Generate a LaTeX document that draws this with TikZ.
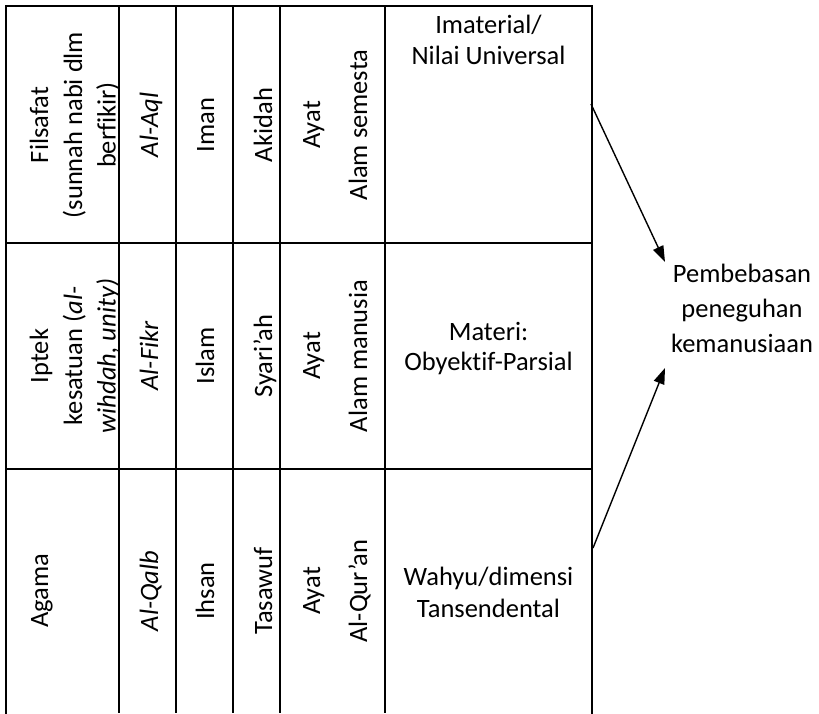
\documentclass[tikz,border=0pt]{standalone}
\usepackage{fontspec}
\setmainfont{Carlito}[Ligatures=NoCommon]
\usetikzlibrary{arrows.meta}
\begin{document}
\begin{tikzpicture}[x=1pt,y=-1pt,
  every node/.style={font=\fontsize{26.5}{34}\selectfont, inner sep=0pt, text=black},
  rot/.style={rotate=90, anchor=base},
  hz/.style={anchor=base},
  grid/.style={line width=1.8pt},
  arr/.style={line width=1.4pt, -{Triangle[length=16pt,width=11pt]}}]
\useasboundingbox (0,0) rectangle (819,713);
% table frame
\draw[grid, line cap=rect] (6,713) -- (6,6) -- (592,6) -- (592,713);
\foreach \x in {119,176,233,280,385} \draw[grid] (\x,6) -- (\x,713);
\draw[grid] (6,243) -- (592,243);
\draw[grid] (6,469) -- (592,469);
% row 1
\node[rot] (r1c1a) at (48,125) {Filsafat};
\node[rot] (r1c1b) at (82,125) {(sunnah nabi dlm};
\node[rot] (r1c1c) at (115.5,125) {berfikir)};
\node[rot] (r1c2) at (158,125) {\itshape Al-Aql};
\node[rot] (r1c3) at (214,125) {Iman};
\node[rot] (r1c4) at (272,125) {Akidah};
\node[rot] (r1c5a) at (320,125) {Ayat};
\node[rot] (r1c5b) at (367,125) {Alam semesta};
\node[hz] (r1c6a) at (488.5,33) {Imaterial/};
\node[hz] (r1c6b) at (488.5,64) {Nilai Universal};
% row 2
\node[rot] (r2c1a) at (48,356) {Iptek};
\node[rot] (r2c1b) at (82,356) {kesatuan (\textit{al-}};
\node[rot] (r2c1c) at (115.5,356) {\textit{wihdah, unity)}};
\node[rot] (r2c2) at (158,356) {\itshape Al-Fikr};
\node[rot] (r2c3) at (214,356) {Islam};
\node[rot] (r2c4) at (272,356) {Syari’ah};
\node[rot] (r2c5a) at (320,356) {Ayat};
\node[rot] (r2c5b) at (367,356) {Alam manusia};
\node[hz] (r2c6a) at (488.5,340) {Materi:};
\node[hz] (r2c6b) at (488.5,370) {Obyektif-Parsial};
% row 3
\node[rot] (r3c1) at (48,591) {Agama};
\node[rot] (r3c2) at (158,591) {\itshape Al-Qalb};
\node[rot] (r3c3) at (214,591) {Ihsan};
\node[rot] (r3c4) at (272,591) {Tasawuf};
\node[rot] (r3c5a) at (320,591) {Ayat};
\node[rot] (r3c5b) at (367,591) {Al-Qur’an};
\node[hz] (r3c6a) at (488.5,585) {Wahyu/dimensi};
\node[hz] (r3c6b) at (488.5,617) {Tansendental};
% result
\node[align=center, font=\fontsize{26.5}{35}\selectfont] (pb) at (742,308) {Pembebasan\\peneguhan\\kemanusiaan};
\coordinate (s1) at (591,104);
\coordinate (e1) at (665,262);
\coordinate (s2) at (593,548);
\coordinate (e2) at (665,368);
\draw[arr] (s1) -- (e1);
\draw[arr] (s2) -- (e2);
\end{tikzpicture}
\end{document}
